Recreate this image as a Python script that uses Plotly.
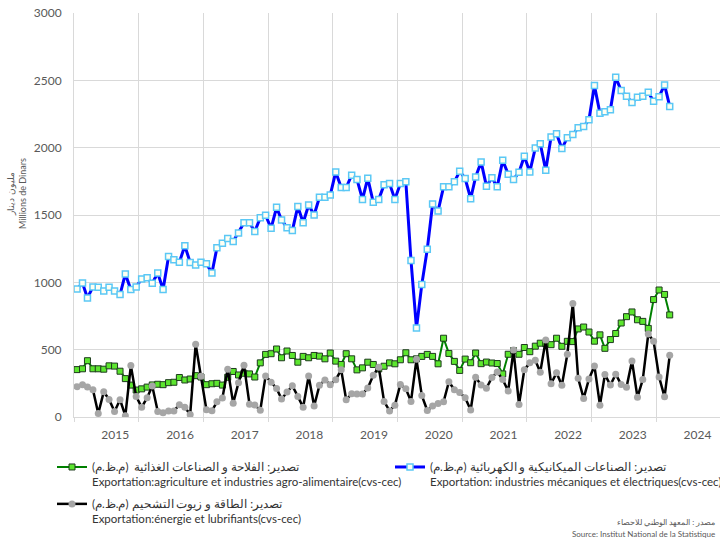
import pandas as pd
import plotly.graph_objects as go

months = pd.date_range("2015-01-01", periods=111, freq="MS")

agri = [352, 358, 418, 358, 358, 355, 380, 378, 340, 285, 237, 200,
        209, 222, 238, 243, 240, 255, 258, 293, 275, 282, 307, 297,
        240, 247, 250, 237, 295, 338, 312, 325, 320, 297, 402, 465,
        470, 505, 440, 490, 457, 407, 450, 440, 457, 452, 432, 475,
        415, 390, 470, 432, 350, 365, 407, 390, 357, 377, 402, 395,
        425, 477, 425, 432, 450, 465, 450, 395, 585, 472, 413, 346,
        430, 403, 475, 396, 408, 401, 397, 320, 466, 493, 466, 516,
        485, 526, 548, 545, 537, 585, 525, 562, 560, 654, 668, 631,
        563, 610, 510, 575, 620, 698, 745, 780, 722, 710, 658, 872,
        943, 910, 758]

meca = [951, 995, 884, 966, 963, 936, 963, 936, 909, 1062, 946, 966,
        1025, 1034, 993, 1069, 946, 1192, 1167, 1150, 1271, 1148, 1128, 1150,
        1138, 1069, 1256, 1291, 1325, 1303, 1367, 1443, 1443, 1377, 1480, 1498,
        1401, 1557, 1463, 1406, 1384, 1564, 1443, 1574, 1500, 1631, 1631, 1648,
        1820, 1704, 1704, 1796, 1764, 1616, 1773, 1594, 1616, 1724, 1734, 1616,
        1734, 1746, 1163, 660, 983, 1246, 1581, 1530, 1709, 1709, 1746, 1825,
        1771, 1621, 1783, 1894, 1714, 1776, 1709, 1906, 1803, 1764, 1818, 1936,
        1820, 1998, 2030, 1832, 2079, 2103, 1993, 2074, 2098, 2148, 2158, 2207,
        2461, 2256, 2266, 2281, 2522, 2424, 2382, 2335, 2374, 2382, 2411, 2345,
        2379, 2466, 2306]

energie = [225, 240, 222, 203, 26, 187, 130, 41, 128, 10, 382, 153,
           72, 143, 230, 41, 32, 44, 45, 91, 72, 18, 540, 302,
           53, 46, 113, 141, 355, 103, 255, 385, 95, 90, 50, 305,
           258, 212, 134, 185, 232, 153, 72, 305, 82, 235, 275, 240,
           277, 350, 128, 172, 170, 170, 215, 310, 369, 116, 45, 88,
           241, 210, 116, 428, 160, 48, 81, 100, 113, 262, 202, 182,
           143, 52, 295, 238, 213, 293, 335, 278, 193, 497, 93, 350,
           402, 422, 333, 572, 247, 328, 235, 466, 843, 288, 138, 283,
           378, 88, 316, 237, 318, 241, 220, 416, 147, 278, 616, 563,
           297, 150, 458]

year_labels = ["2015", "2016", "2017", "2018", "2019", "2020", "2021", "2022", "2023", "2024"]
label_pos = [f"{y}-08-05" for y in year_labels]

ar_names = [
    "تصدير: الفلاحة و الصناعات الغذائية  (م.ظ.م)",
    "تصدير: الصناعات الميكانيكية و الكهربائية (م.ظ.م)",
    "تصدير: الطاقة و زيوت التشحيم (م.ظ.م)",
]
fr_names = [
    "Exportation:agriculture et industries agro-alimentaire(cvs-cec)",
    "Exportation: industries mécaniques et électriques(cvs-cec)",
    "Exportation:énergie et lubrifiants(cvs-cec)",
]

FONT = "Lato, sans-serif"
AR_SPAN = "<span style='font-size:11.5px'>{}</span>"


def legend_name(i):
    return AR_SPAN.format(ar_names[i]) + "<br>" + fr_names[i]


fig = go.Figure()
fig.add_trace(go.Scatter(
    x=months, y=agri, mode="lines+markers", name=legend_name(0),
    legend="legend", legendgroup="a",
    line=dict(color="#008000", width=2),
    marker=dict(symbol="square", size=6, color="#5CE62E", line=dict(color="#1E3A1E", width=1)),
))
fig.add_trace(go.Scatter(
    x=months, y=meca, mode="lines+markers", name=legend_name(1),
    legend="legend2", legendgroup="b",
    line=dict(color="#0000FF", width=3),
    marker=dict(symbol="square", size=6, color="#FFFFF2", line=dict(color="#5BC8F5", width=1.5)),
))
fig.add_trace(go.Scatter(
    x=months, y=energie, mode="lines+markers", name=legend_name(2),
    legend="legend", legendgroup="c",
    line=dict(color="#000000", width=2.5),
    marker=dict(symbol="circle", size=7, color="#A6A6A6"),
))

legend_common = dict(
    orientation="v", yanchor="top", valign="top",
    font=dict(family=FONT, size=11.5, color="#333333"),
    bgcolor="rgba(0,0,0,0)", tracegroupgap=4,
)

fig.update_layout(
    width=720, height=540,
    margin=dict(l=74, r=0, t=13, b=123, autoexpand=False),
    paper_bgcolor="white", plot_bgcolor="white",
    font=dict(family=FONT, size=12, color="#595959"),
    legend=dict(x=(52 - 74) / 646, y=(417 - 453) / 404, xanchor="left", **legend_common),
    legend2=dict(x=(390 - 74) / 646, y=(417 - 453) / 404, xanchor="left", **legend_common),
    xaxis=dict(
        type="date", range=["2014-12-15", "2024-12-10"], automargin=False,
        tickvals=label_pos, ticktext=year_labels,
        ticks="outside", ticklen=7, tickcolor="rgba(0,0,0,0)",
        showgrid=False, showline=True, linecolor="#D9D9D9",
        tickfont=dict(size=12, color="#595959"),
        minor=dict(tick0="2014-12-15", dtick="M12", showgrid=True,
                   gridcolor="#D9D9D9", gridwidth=1, ticks="outside",
                   ticklen=4, tickcolor="#D9D9D9"),
    ),
    yaxis=dict(
        range=[0, 3000], dtick=500, showgrid=True, gridcolor="#D9D9D9",
        automargin=False,
        zeroline=True, zerolinecolor="#D9D9D9", zerolinewidth=1,
        showline=True, linecolor="#D9D9D9",
        tickfont=dict(size=12, color="#595959"),
        ticks="outside", ticklen=9, tickcolor="rgba(0,0,0,0)",
    ),
    showlegend=True,
)

fig.add_annotation(
    text="مليون دينار<br>Millions de Dinars",
    textangle=-90,
    xref="paper", yref="paper", x=(17 - 74) / 646, y=(417 - 193) / 404,
    xanchor="center", yanchor="middle", showarrow=False,
    font=dict(family=FONT, size=9, color="#595959"),
)
fig.add_annotation(
    text="مصدر : المعهد الوطني للاحصاء",
    xref="paper", yref="paper", x=(717 - 74) / 646, y=(417 - 522) / 404,
    xanchor="right", yanchor="middle", showarrow=False,
    font=dict(family=FONT, size=8, color="#595959"),
)
fig.add_annotation(
    text="Source: Institut National de la Statistique",
    xref="paper", yref="paper", x=(717 - 74) / 646, y=(417 - 534) / 404,
    xanchor="right", yanchor="middle", showarrow=False,
    font=dict(family=FONT, size=8, color="#595959"),
)

fig.write_html("out.html", config={"displayModeBar": False},
               post_script="document.body.style.margin='0px';")
